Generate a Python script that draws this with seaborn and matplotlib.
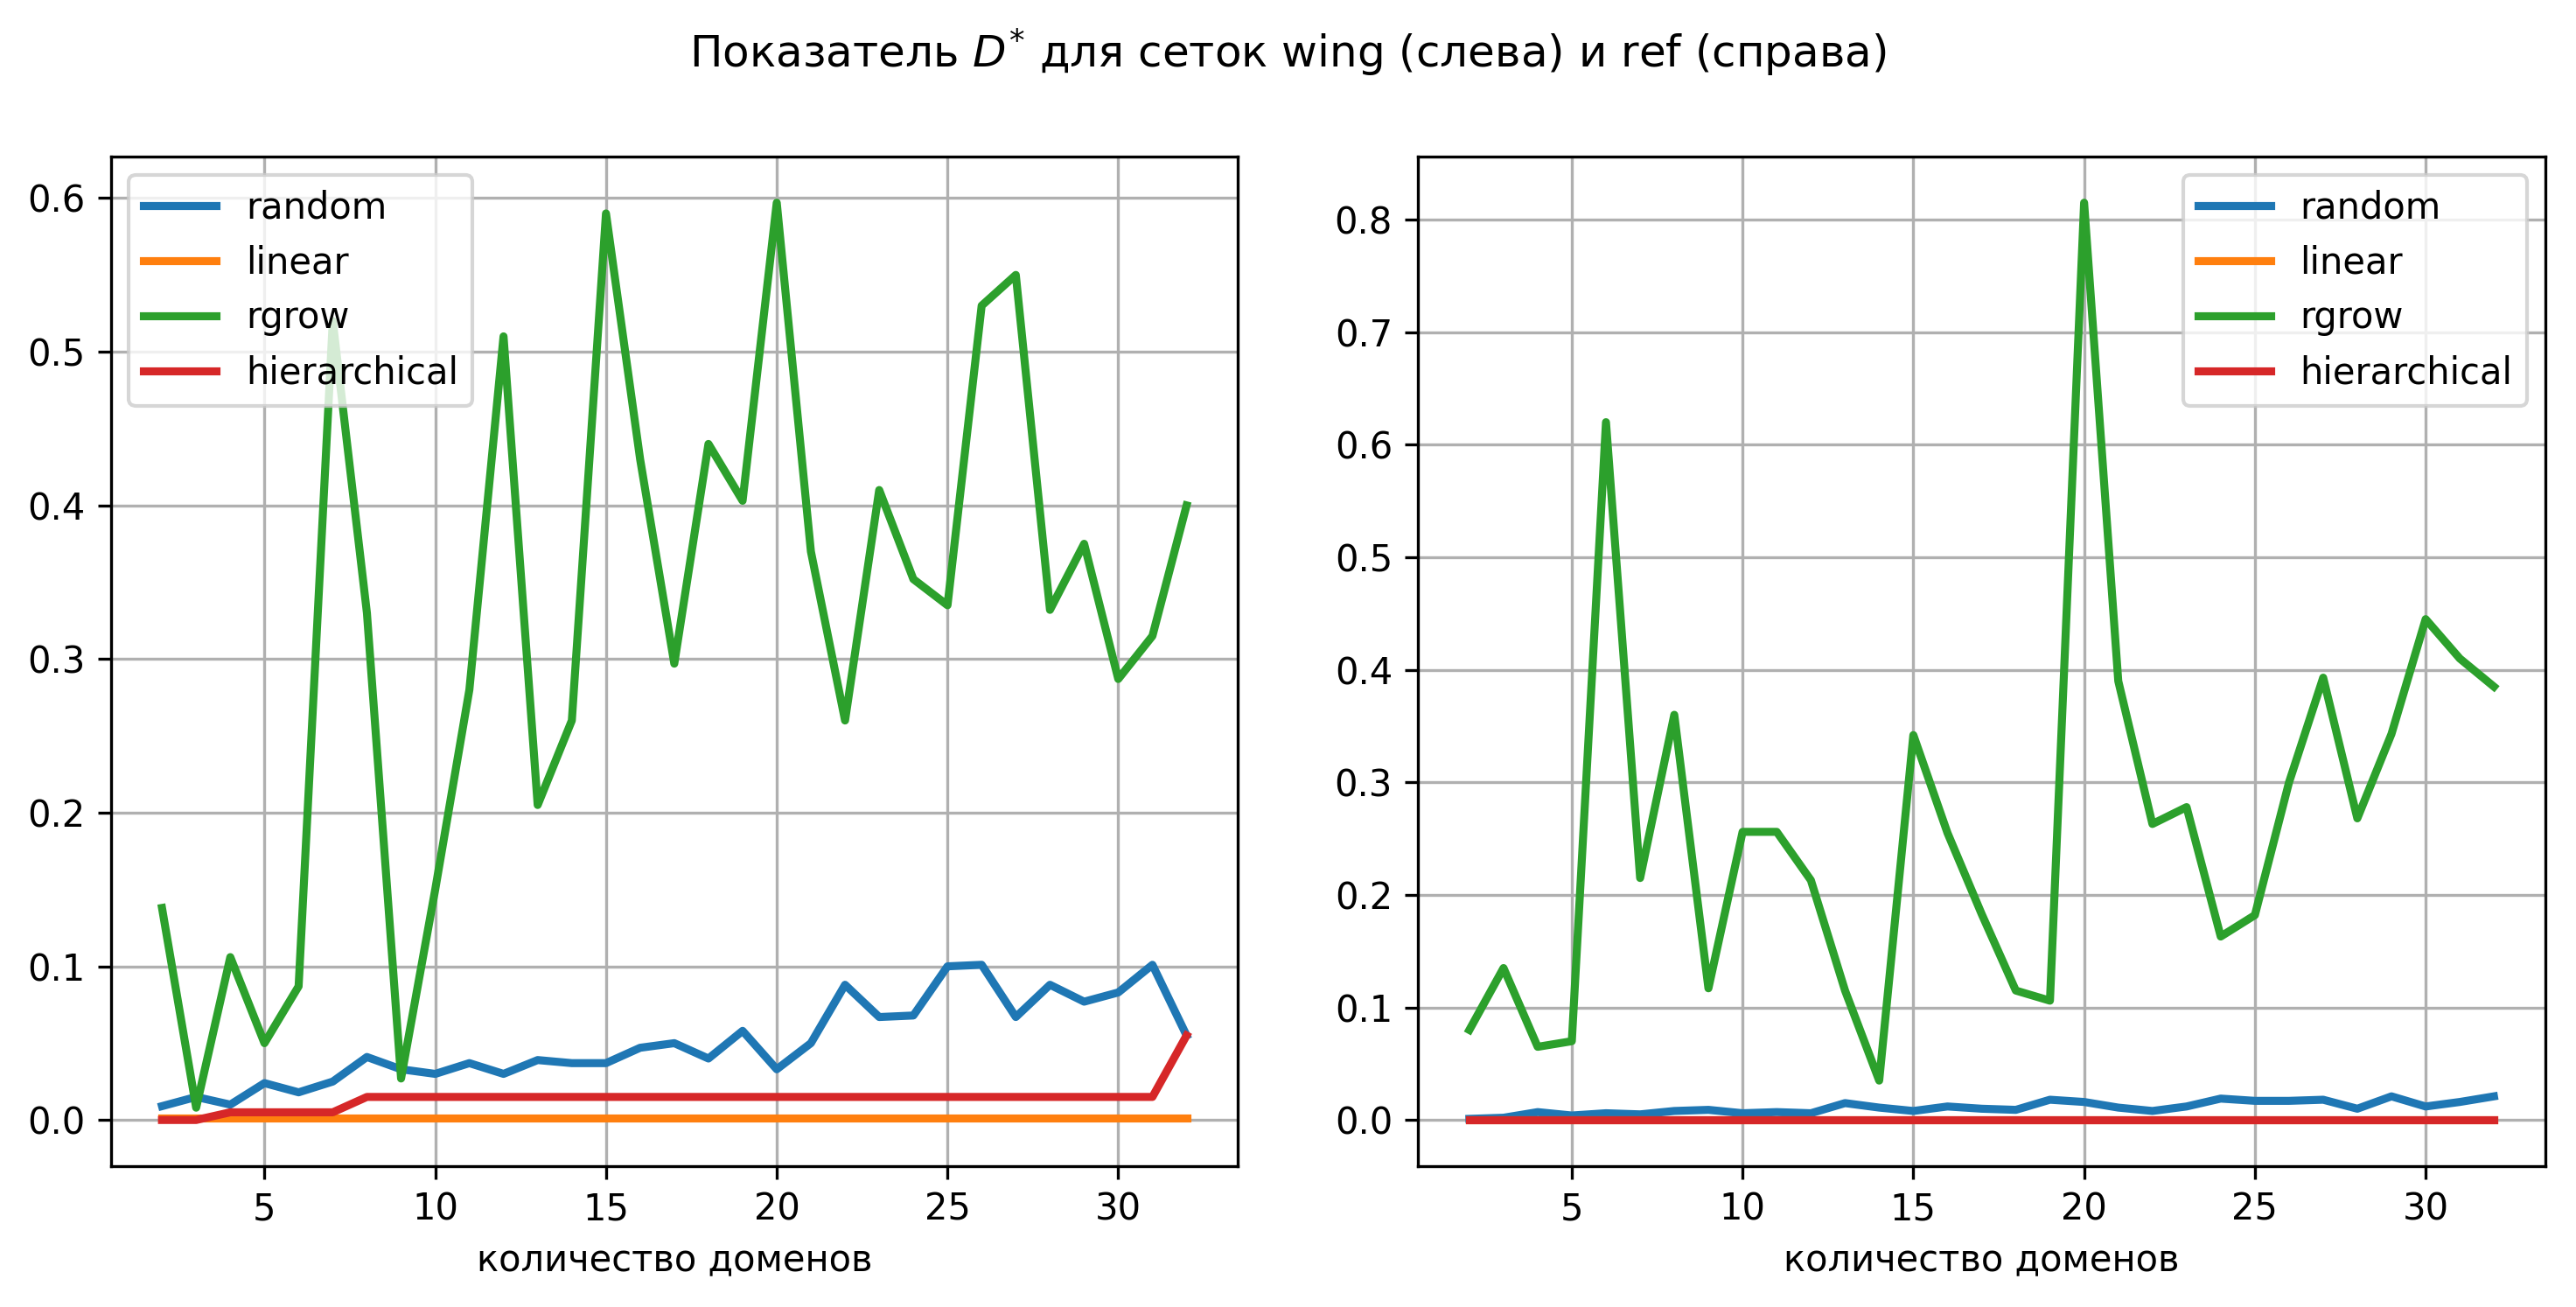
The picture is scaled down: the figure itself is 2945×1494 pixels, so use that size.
import numpy as np
import pandas as pd
import matplotlib
matplotlib.use('Agg')
import matplotlib.pyplot as plt
import seaborn as sns

plt.style.use('default')
plt.rcParams['font.family'] = ['DejaVu Sans']

domains = list(range(2, 33))
methods = ['random', 'linear', 'rgrow', 'hierarchical']
colors = ['#1f77b4', '#ff7f0e', '#2ca02c', '#d62728']

wing_random = [0.009, 0.015, 0.01, 0.024, 0.018, 0.025, 0.041, 0.033, 0.03, 0.037, 0.03,
               0.039, 0.037, 0.037, 0.047, 0.05, 0.04, 0.058, 0.033, 0.05, 0.088, 0.067,
               0.068, 0.1, 0.101, 0.067, 0.088, 0.077, 0.083, 0.101, 0.055]
wing_linear = [0.001] * 31
wing_rgrow = [0.138, 0.008, 0.106, 0.05, 0.087, 0.52, 0.33, 0.027, 0.15, 0.28, 0.51,
              0.205, 0.26, 0.59, 0.43, 0.297, 0.44, 0.403, 0.597, 0.37, 0.26, 0.41,
              0.352, 0.335, 0.53, 0.55, 0.332, 0.375, 0.287, 0.315, 0.40]
wing_hier = [0.0, 0.0, 0.005, 0.005, 0.005, 0.005] + [0.015] * 24 + [0.055]

ref_random = [0.001, 0.002, 0.007, 0.004, 0.006, 0.005, 0.008, 0.009, 0.006, 0.007, 0.006,
              0.015, 0.011, 0.008, 0.012, 0.01, 0.009, 0.018, 0.016, 0.011, 0.008, 0.012,
              0.019, 0.017, 0.017, 0.018, 0.01, 0.021, 0.012, 0.016, 0.021]
ref_linear = [0.0] * 31
ref_rgrow = [0.08, 0.135, 0.065, 0.07, 0.62, 0.215, 0.36, 0.117, 0.256, 0.256, 0.213,
             0.115, 0.035, 0.342, 0.255, 0.183, 0.115, 0.106, 0.815, 0.39, 0.263, 0.278,
             0.163, 0.182, 0.3, 0.393, 0.268, 0.343, 0.445, 0.41, 0.385]
ref_hier = [0.0] * 31

fig, axes = plt.subplots(1, 2, figsize=(9.817, 4.98), dpi=300)
for ax, series, loc in [(axes[0], [wing_random, wing_linear, wing_rgrow, wing_hier], 'upper left'),
                        (axes[1], [ref_random, ref_linear, ref_rgrow, ref_hier], 'upper right')]:
    for name, vals, c in zip(methods, series, colors):
        sns.lineplot(x=domains, y=vals, ax=ax, color=c, linewidth=2.2, label=name)
    ax.grid(True)
    ax.set_xlabel('количество доменов')
    ax.legend(loc=loc)
    ax.set_xticks([5, 10, 15, 20, 25, 30])

fig.suptitle('Показатель $D^{*}$ для сеток wing (слева) и ref (справа)')
plt.subplots_adjust(left=0.043, right=0.988, top=0.88, bottom=0.108, wspace=0.16)
plt.savefig('out.png', dpi=300)
